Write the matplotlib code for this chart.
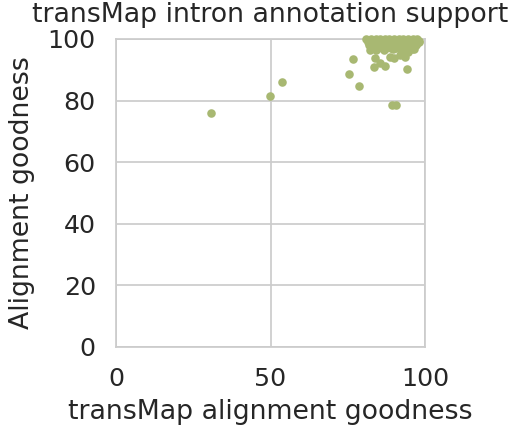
import matplotlib
matplotlib.use("Agg")
import matplotlib.pyplot as plt
import seaborn as sns

sns.set_style("whitegrid")
plt.rcParams['font.family'] = ['DejaVu Sans']

# isolated points
x_outliers = [30.6, 49.9, 53.7, 75.5, 76.8, 78.7, 89.4, 90.5, 94.3, 83.6, 87.1, 89.9, 93.5,
              83.8, 85.4, 88.7, 91.9, 94.5, 82.2]
y_outliers = [76.1, 81.6, 86.0, 88.6, 93.5, 84.7, 78.5, 78.5, 90.4, 90.8, 91.3, 93.7, 94.2,
              93.8, 92.2, 94.2, 94.8, 95.8, 96.4]

# dense cluster near the top-right corner
x_cluster = [81.0, 82.5, 84.0, 85.5, 87.0, 88.5, 90.0, 91.5, 93.0, 94.5, 96.0, 97.5,
             81.8, 83.2, 84.8, 86.2, 87.8, 89.2, 90.8, 92.2, 93.8, 95.2, 96.8, 98.2,
             81.5, 83.0, 84.5, 86.0, 87.5, 89.0, 90.5, 92.0, 93.5, 95.0, 96.5, 98.0,
             82.2, 83.8, 85.2, 86.8, 88.2, 89.8, 91.2, 92.8, 94.2, 95.8, 97.2,
             82.0, 83.5, 85.0, 86.5, 88.0, 89.5, 91.0, 92.5, 94.0, 95.5, 97.0,
             83.0, 84.5, 86.0, 87.5, 89.0, 90.5, 92.0, 93.5, 95.0, 96.5,
             84.0, 86.8, 89.5, 92.8, 95.8]
y_cluster = [100.0, 100.0, 100.0, 100.0, 100.0, 100.0, 100.0, 100.0, 100.0, 100.0, 100.0, 100.0,
             99.5, 99.5, 99.5, 99.5, 99.5, 99.5, 99.5, 99.5, 99.5, 99.5, 99.5, 99.5,
             99.0, 99.0, 99.0, 99.0, 99.0, 99.0, 99.0, 99.0, 99.0, 99.0, 99.0, 99.0,
             98.5, 98.5, 98.5, 98.5, 98.5, 98.5, 98.5, 98.5, 98.5, 98.5, 98.5,
             98.0, 98.0, 98.0, 98.0, 98.0, 98.0, 98.0, 98.0, 98.0, 98.0, 98.0,
             97.2, 97.2, 97.2, 97.2, 97.2, 97.2, 97.2, 97.2, 97.2, 96.9,
             96.5, 96.3, 96.6, 96.2, 96.8]

xs = x_outliers + x_cluster
ys = y_outliers + y_cluster

fig = plt.figure(figsize=(5.14, 4.30), dpi=100)
ax = fig.add_axes([116/514, 1-347/430, (425-116)/514, (347-39)/430])

ax.scatter(xs, ys, s=38, color='#a8b872', linewidths=0, zorder=3, clip_on=False)

ax.set_xlim(0, 100)
ax.set_ylim(0, 100)
ax.set_xticks([0, 50, 100])
ax.set_yticks([0, 20, 40, 60, 80, 100])
tfs = 18.2
lfs = 19.3
ax.tick_params(labelsize=tfs, colors='#262626', length=0, pad=14.5)
ax.set_xlabel('transMap alignment goodness', fontsize=lfs, color='#262626', labelpad=6)
ax.set_ylabel('Alignment goodness', fontsize=lfs, color='#262626', labelpad=9)
ax.set_title('transMap intron annotation support', fontsize=lfs, color='#262626', pad=12)
for s in ax.spines.values():
    s.set_color('#cccccc')
    s.set_linewidth(1.25)
ax.grid(color='#cccccc', linewidth=1.25)

fig.savefig('out.png', dpi=100)
